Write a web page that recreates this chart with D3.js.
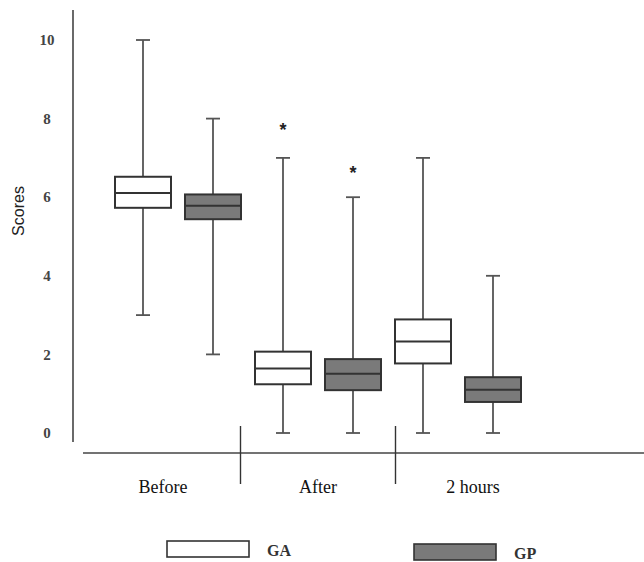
<!DOCTYPE html>
<html><head><meta charset="utf-8">
<script src="https://cdn.jsdelivr.net/npm/d3@7"></script>
<style>body{margin:0;background:#fff}svg{display:block}</style>
</head><body>
<script>
const groups = ["Before", "After", "2 hours"];
const series = ["GA", "GP"];
const seriesColors = ["#ffffff", "#7a7a7a"];
// [min, q1, median, q3, max] per group
const gaStats = [[3, 5.73, 6.11, 6.52, 10], [0, 1.24, 1.64, 2.07, 7], [0, 1.77, 2.33, 2.89, 7]];
const gpStats = [[2, 5.44, 5.78, 6.07, 8], [0, 1.09, 1.51, 1.88, 6], [0, 0.79, 1.10, 1.42, 4]];
const outliers = [{group: "After", series: "GA", value: 7.78}, {group: "After", series: "GP", value: 6.68}];
const yTicks = [0, 2, 4, 6, 8, 10];

const W = 644, H = 562;
const svg = d3.select("body").append("svg").attr("width", W).attr("height", H);

const y = d3.scaleLinear().domain([0, 10]).range([433, 40]);
const x = d3.scaleBand().domain(groups).range([108, 528]).padding(0);
const xs = d3.scaleBand().domain(series).range([0, x.bandwidth()]).padding(0);
const xLabel = d3.scalePoint().domain(groups).range([163, 473]);
const boxW = 56, capW = 14;

// Axes lines
svg.append("line").attr("x1", 73).attr("x2", 73).attr("y1", 10).attr("y2", 442)
  .attr("stroke", "#444").attr("stroke-width", 1.6);
svg.append("line").attr("x1", 83).attr("x2", 644).attr("y1", 453).attr("y2", 453)
  .attr("stroke", "#444").attr("stroke-width", 1.6);

// y tick labels
svg.selectAll(".yt").data(yTicks).enter().append("text")
  .attr("x", 47).attr("y", d => y(d)).attr("dy", "0.35em")
  .attr("text-anchor", "middle")
  .style("font-family", "'Liberation Serif', 'DejaVu Serif', serif")
  .style("font-size", "15px").style("font-weight", "bold").style("fill", "#444")
  .text(d => d);

svg.append("text").attr("transform", "translate(24,211) rotate(-90)")
  .attr("text-anchor", "middle")
  .style("font-family", "'Liberation Sans', 'Open Sans', sans-serif")
  .style("font-size", "16px").style("fill", "#222").text("Scores");

// x group labels & dividers
svg.selectAll(".xl").data(groups).enter().append("text")
  .attr("x", d => xLabel(d)).attr("y", 493)
  .attr("text-anchor", "middle")
  .style("font-family", "'Liberation Serif', 'DejaVu Serif', serif")
  .style("font-size", "18px").style("fill", "#111")
  .text(d => d);
const dividers = groups.slice(1).map((g, i) => (xLabel(groups[i]) + xLabel(g)) / 2);
svg.selectAll(".dv").data(dividers).enter().append("line")
  .attr("x1", d => d).attr("x2", d => d).attr("y1", 426).attr("y2", 484)
  .attr("stroke", "#333").attr("stroke-width", 1.4);

// boxes
const boxes = [];
groups.forEach((g, i) => {
  boxes.push({group: g, series: "GA", s: gaStats[i], fill: seriesColors[0]});
  boxes.push({group: g, series: "GP", s: gpStats[i], fill: seriesColors[1]});
});
const cx = d => x(d.group) + xs(d.series) + xs.bandwidth() / 2;

const bg = svg.selectAll(".box").data(boxes).enter().append("g");
bg.append("line").attr("x1", cx).attr("x2", cx)
  .attr("y1", d => y(d.s[0])).attr("y2", d => y(d.s[4]))
  .attr("stroke", "#555").attr("stroke-width", 1.8);
bg.append("line").attr("x1", d => cx(d) - capW / 2).attr("x2", d => cx(d) + capW / 2)
  .attr("y1", d => y(d.s[0])).attr("y2", d => y(d.s[0]))
  .attr("stroke", "#555").attr("stroke-width", 1.8);
bg.append("line").attr("x1", d => cx(d) - capW / 2).attr("x2", d => cx(d) + capW / 2)
  .attr("y1", d => y(d.s[4])).attr("y2", d => y(d.s[4]))
  .attr("stroke", "#555").attr("stroke-width", 1.8);
bg.append("rect").attr("x", d => cx(d) - boxW / 2).attr("width", boxW)
  .attr("y", d => y(d.s[3])).attr("height", d => y(d.s[1]) - y(d.s[3]))
  .attr("fill", d => d.fill).attr("stroke", "#333").attr("stroke-width", 2);
bg.append("line").attr("x1", d => cx(d) - boxW / 2).attr("x2", d => cx(d) + boxW / 2)
  .attr("y1", d => y(d.s[2])).attr("y2", d => y(d.s[2]))
  .attr("stroke", "#333").attr("stroke-width", 2);

// outlier stars
svg.selectAll(".star").data(outliers).enter().append("text")
  .attr("x", d => x(d.group) + xs(d.series) + xs.bandwidth() / 2)
  .attr("y", d => y(d.value) + 9)
  .attr("text-anchor", "middle")
  .style("font-family", "'Liberation Sans', sans-serif")
  .style("font-size", "18px").style("font-weight", "bold").style("fill", "#222")
  .text("*");

// legend
const legend = [
  {name: "GA", fill: seriesColors[0], x: 167, y: 541, tx: 267},
  {name: "GP", fill: seriesColors[1], x: 414, y: 544, tx: 514}
];
const lg = svg.selectAll(".lg").data(legend).enter().append("g");
lg.append("rect").attr("x", d => d.x).attr("y", d => d.y).attr("width", 82).attr("height", 16)
  .attr("fill", d => d.fill).attr("stroke", "#333").attr("stroke-width", 1.6);
lg.append("text").attr("x", d => d.tx).attr("y", d => d.y + 15)
  .style("font-family", "'Liberation Serif', 'DejaVu Serif', serif")
  .style("font-size", "16px").style("font-weight", "bold").style("fill", "#333")
  .text(d => d.name);
</script>
</body></html>
